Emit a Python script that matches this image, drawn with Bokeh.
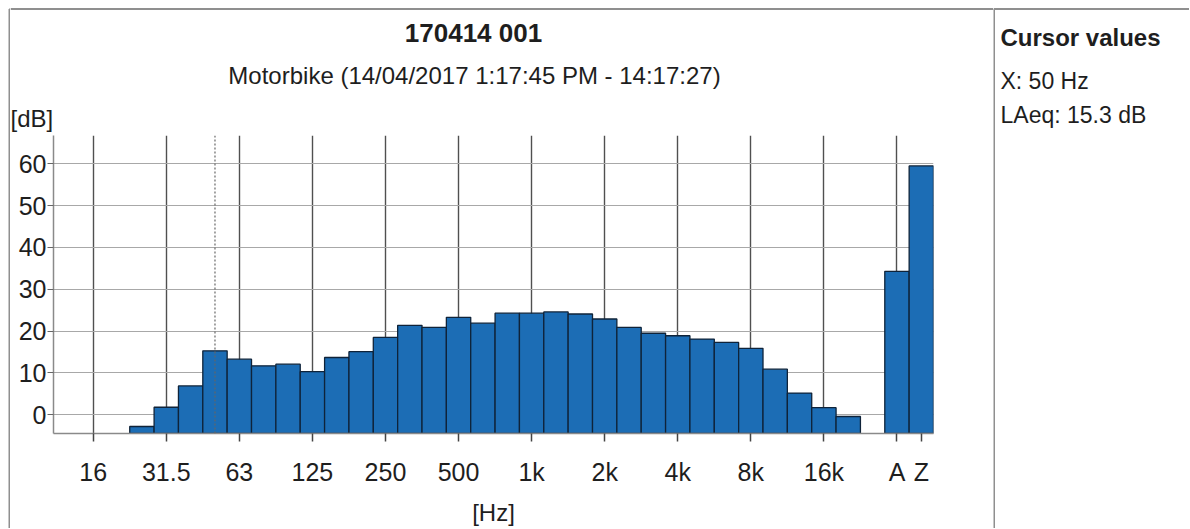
from bokeh.plotting import figure
from bokeh.layouts import row, column
from bokeh.models import ColumnDataSource, FixedTicker, Label, Span, Range1d
from bokeh.embed import file_html
from bokeh.resources import INLINE

# ---- data ----
lead_bands = ["16", "20"]
bands = ["25", "31.5", "40", "50", "63", "80", "100", "125", "160", "200", "250", "315",
         "400", "500", "630", "800", "1k", "1.25k", "1.6k", "2k", "2.5k", "3.15k", "4k",
         "5k", "6.3k", "8k", "10k", "12.5k", "16k", "20k"]
band_levels = [-2.8, 1.8, 6.9, 15.3, 13.3, 11.7, 12.1, 10.3, 13.7, 15.1, 18.5, 21.4,
               20.9, 23.3, 21.9, 24.3, 24.3, 24.6, 24.1, 22.9, 20.9, 19.5, 18.9,
               18.1, 17.3, 15.9, 10.9, 5.2, 1.7, -0.4]
broadband = ["A", "Z"]
broadband_levels = [34.3, 59.5]
tick_labels = ["16", "31.5", "63", "125", "250", "500", "1k", "2k", "4k", "8k", "16k", "A", "Z"]
y_ticks = [0, 10, 20, 30, 40, 50, 60]
cursor_band = "50"

title_text = "170414 001"
subtitle_text = "Motorbike (14/04/2017 1:17:45 PM - 14:17:27)"
y_unit = "[dB]"
x_unit = "[Hz]"
panel_title = "Cursor values"
panel_lines = ["X: 50 Hz", "LAeq: 15.3 dB"]

# ---- positions on a band-index axis ----
all_bands = lead_bands + bands
pos = {b: i for i, b in enumerate(all_bands)}
n = len(all_bands)
for k, b in enumerate(broadband):
    pos[b] = n + 1 + k

X0, X1 = -1.63, 34.5
Y0, Y1 = -4.47, 66.77

FONT = "Liberation Sans"
TXT = "#1e1e1e"
BORDER = "#8f8f8f"

H = 528
HEAD_H = 135
LEFT_W = 10
MAIN_W = 983
PANEL_W = 196


def blank(width, height, x0, x1):
    f = figure(width=width, height=height, x_range=Range1d(x0, x1), y_range=Range1d(height, 0),
               x_axis_type=None, y_axis_type=None, output_backend="svg",
               toolbar_location=None, min_border=0, title=None, frame_align=False)
    f.outline_line_color = None
    f.background_fill_color = "white"
    f.border_fill_color = "white"
    return f


def lab(f, text, x, baseline, size_px, align="left", bold=False):
    # empirical shift: alphabetic baseline lands ~0.4em lower than requested
    f.add_layout(Label(x=x, y=baseline - 0.4 * size_px, text=text, text_font=FONT,
                       text_font_size=f"{size_px}px", text_align=align,
                       text_baseline="alphabetic", text_color=TXT,
                       text_font_style="bold" if bold else "normal"))


# ---- left border strip ----
strip = blank(LEFT_W, H, 0, LEFT_W)
strip.segment(x0=[9, 9], y0=[8.5, 8.5], x1=[9, LEFT_W], y1=[H, 8.5],
              line_color=BORDER, line_width=2)

# ---- header ----
head = blank(MAIN_W, HEAD_H, LEFT_W, LEFT_W + MAIN_W)
head.segment(x0=[LEFT_W], y0=[8.5], x1=[LEFT_W + MAIN_W], y1=[8.5],
             line_color=BORDER, line_width=2)
lab(head, title_text, 473, 43, 26, align="center", bold=True)
lab(head, subtitle_text, 474, 85, 24, align="center")
lab(head, y_unit, 10, 128, 24)

# ---- main chart ----
p = figure(width=MAIN_W, height=H - HEAD_H, x_range=Range1d(X0, X1), y_range=Range1d(Y0, Y1),
           output_backend="svg", toolbar_location=None, title=None, frame_align=False,
           min_border_left=43, min_border_right=60, min_border_top=0, min_border_bottom=95)
p.outline_line_color = None
p.background_fill_color = "white"
p.border_fill_color = "white"

p.xgrid.ticker = FixedTicker(ticks=[pos[t] for t in tick_labels if t != "Z"])
p.xgrid.grid_line_color = "#505050"
p.xgrid.grid_line_width = 1.4
p.ygrid.ticker = FixedTicker(ticks=y_ticks)
p.ygrid.grid_line_color = "#a8a8a8"
p.ygrid.grid_line_width = 1.2

p.xaxis.ticker = FixedTicker(ticks=[pos[t] for t in tick_labels])
p.xaxis.major_label_overrides = {pos[t]: t for t in tick_labels}
p.xaxis.minor_tick_line_color = None
p.xaxis.major_tick_out = 8
p.xaxis.major_tick_in = 0
p.xaxis.major_tick_line_color = "#444444"
p.xaxis.major_tick_line_width = 1.5
p.xaxis.axis_line_color = "#8a8a8a"
p.xaxis.axis_line_width = 1.5
p.xaxis.major_label_text_font = FONT
p.xaxis.major_label_text_font_size = "25px"
p.xaxis.major_label_text_color = TXT
p.xaxis.major_label_standoff = 16
p.xaxis.axis_label = x_unit
p.xaxis.axis_label_text_font = FONT
p.xaxis.axis_label_text_font_size = "24px"
p.xaxis.axis_label_text_font_style = "normal"
p.xaxis.axis_label_text_color = TXT
p.xaxis.axis_label_standoff = 10

p.yaxis.ticker = FixedTicker(ticks=y_ticks)
p.yaxis.minor_tick_line_color = None
p.yaxis.major_tick_out = 6
p.yaxis.major_tick_in = 0
p.yaxis.major_tick_line_color = "#666666"
p.yaxis.axis_line_color = "#8a8a8a"
p.yaxis.axis_line_width = 1.5
p.yaxis.major_label_text_font = FONT
p.yaxis.major_label_text_font_size = "25px"
p.yaxis.major_label_text_color = TXT
p.yaxis.major_label_standoff = 1

p.add_layout(Span(location=pos[cursor_band], dimension="height", line_color="#666666",
                  line_dash="2 2", line_width=1.2))

src = ColumnDataSource(dict(
    x=[pos[b] for b in bands] + [pos[b] for b in broadband],
    top=band_levels + broadband_levels,
))
p.vbar(x="x", top="top", bottom=Y0, width=1.0, source=src,
       fill_color="#1c6db5", line_color="#0f2339", line_width=1.3)

# ---- right panel ----
PX0 = LEFT_W + MAIN_W
panel = blank(PANEL_W, H, PX0, PX0 + PANEL_W)
panel.segment(x0=[PX0 + 0.5, PX0], y0=[8.5, 8.5], x1=[PX0 + 0.5, PX0 + PANEL_W], y1=[H, 8.5],
              line_color=BORDER, line_width=2)
lab(panel, panel_title, 1000, 47, 24, bold=True)
lab(panel, panel_lines[0], 1000, 90, 23)
lab(panel, panel_lines[1], 1000, 124, 23)

layout = row(strip, column(head, p), panel)
open("out.html", "w").write(file_html(layout, INLINE))
